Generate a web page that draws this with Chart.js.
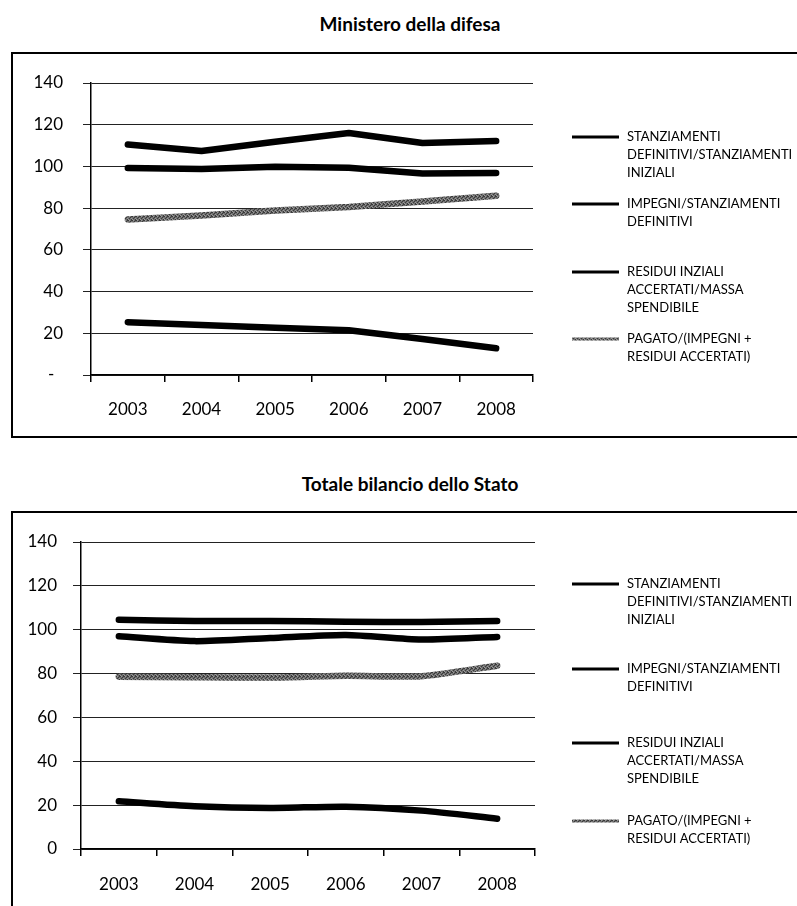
<!DOCTYPE html>
<html>
<head>
<meta charset="utf-8">
<script src="https://cdn.jsdelivr.net/npm/chart.js@4.4.1/dist/chart.umd.min.js"></script>
<style>
  html, body { margin: 0; padding: 0; background: #fff; width: 797px; height: 906px; overflow: hidden; }
  body { position: relative; font-family: Lato, "Open Sans", sans-serif; }
  .title { position: absolute; left: 0; width: 820px; text-align: center; font-weight: bold; font-size: 19px; line-height: 24px; color: #000; }
  .box { position: absolute; border: 2px solid #000; box-sizing: border-box; }
  canvas { position: absolute; left: 0; }
</style>
</head>
<body>
<div class="title" style="top:12px">Ministero della difesa</div>
<div class="box" style="left:11px; top:52px; width:820px; height:386px"></div>
<canvas id="difesa" width="797" height="453" style="top:0"></canvas>

<div class="title" style="top:472px">Totale bilancio dello Stato</div>
<div class="box" style="left:11px; top:511px; width:820px; height:500px"></div>
<canvas id="stato" width="797" height="446" style="top:460px"></canvas>

<script>
// Categories and legend texts
const years = ['2003', '2004', '2005', '2006', '2007', '2008'];
const seriesNames = [
  ['STANZIAMENTI', 'DEFINITIVI/STANZIAMENTI', 'INIZIALI'],
  ['IMPEGNI/STANZIAMENTI', 'DEFINITIVI'],
  ['RESIDUI INZIALI', 'ACCERTATI/MASSA', 'SPENDIBILE'],
  ['PAGATO/(IMPEGNI +', 'RESIDUI ACCERTATI)']
];

// Ministero della difesa (%)
const difesaStanziamenti = [110.5, 107.4, 111.8, 116.0, 111.2, 112.2];
const difesaImpegni      = [99.2, 98.8, 99.8, 99.4, 96.6, 96.8];
const difesaResidui      = [25.3, 24.0, 22.6, 21.5, 17.3, 12.8];
const difesaPagato       = [74.6, 76.5, 78.9, 80.5, 83.2, 85.9];

// Totale bilancio dello Stato (%)
const statoStanziamenti = [104.5, 104.0, 104.0, 103.6, 103.5, 104.0];
const statoImpegni      = [97.0, 94.8, 96.2, 97.6, 95.5, 96.7];
const statoResidui      = [21.8, 19.5, 18.7, 19.3, 17.5, 13.8];
const statoPagato       = [78.6, 78.3, 78.2, 79.0, 78.8, 83.6];

// Y axis tick labels (step 20 from 0 to 140)
const difesaYTicks = ['-  ', '20', '40', '60', '80', '100', '120', '140'];
const statoYTicks  = ['0', '20', '40', '60', '80', '100', '120', '140'];

// Mottled grey stroke for the "pagato" series
function greyPattern() {
  const c = document.createElement('canvas');
  c.width = 4; c.height = 4;
  const g = c.getContext('2d');
  g.fillStyle = '#6f6f6f';
  g.fillRect(0, 0, 4, 4);
  g.fillStyle = '#3a3a3a';
  [[0,0],[2,1],[1,2],[3,3],[3,0]].forEach(([x, y]) => g.fillRect(x, y, 1, 1));
  g.fillStyle = '#9a9a9a';
  [[1,0],[3,2],[0,3]].forEach(([x, y]) => g.fillRect(x, y, 1, 1));
  return g.createPattern(c, 'repeat');
}
const GREY = greyPattern();

// Legend drawn to the right of the plot, one multi-line entry per series
const sideLegend = {
  id: 'sideLegend',
  afterDraw(chart, args, opts) {
    const ctx = chart.ctx;
    ctx.save();
    ctx.font = opts.fontSize + 'px Lato, "Open Sans", sans-serif';
    ctx.textBaseline = 'middle';
    ctx.textAlign = 'left';
    chart.data.datasets.forEach((ds, i) => {
      const y = opts.rows[i];
      ctx.strokeStyle = ds.borderColor;
      ctx.lineWidth = opts.symbolWidth;
      ctx.beginPath();
      ctx.moveTo(opts.x0, y);
      ctx.lineTo(opts.x1, y);
      ctx.stroke();
      ctx.fillStyle = '#000';
      const lines = Array.isArray(ds.label) ? ds.label : [ds.label];
      lines.forEach((t, k) => ctx.fillText(t, opts.textX, y + k * opts.lineHeight));
    });
    ctx.restore();
  }
};

function buildChart(id, values, yTicks, g) {
  const tickFont = { family: 'Lato', size: 17 };
  const colors = ['#000', '#000', '#000', GREY];
  return new Chart(document.getElementById(id), {
    type: 'line',
    data: {
      labels: years,
      datasets: values.map((v, i) => ({
        label: seriesNames[i],
        data: v,
        borderColor: colors[i],
        backgroundColor: colors[i],
        fill: false
      }))
    },
    options: {
      responsive: false,
      animation: false,
      layout: { padding: { top: g.top, right: g.right, left: 0, bottom: 0 } },
      elements: {
        point: { radius: 0, hoverRadius: 0 },
        line: { borderWidth: 6.5, borderCapStyle: 'round', borderJoinStyle: 'round', tension: g.tension }
      },
      plugins: {
        legend: { display: false },
        tooltip: { enabled: false },
        sideLegend: { rows: g.rows, x0: 572, x1: 619, textX: 627, lineHeight: 18, fontSize: 13, symbolWidth: 3 }
      },
      scales: {
        x: {
          offset: true,
          grid: { offset: true, drawOnChartArea: false, drawTicks: true, tickLength: 7, color: '#000', lineWidth: 1.5 },
          border: { display: true, color: '#000', width: 1.5 },
          ticks: { font: tickFont, color: '#000', padding: g.xPad, maxRotation: 0, autoSkip: false },
          afterFit: s => { s.height = g.xH; }
        },
        y: {
          min: 0, max: 140,
          grid: { color: '#222', lineWidth: 1, tickLength: 8 },
          border: { display: true, color: '#000', width: 1.5 },
          ticks: { stepSize: 20, font: tickFont, color: '#000', padding: g.yPad, callback: v => yTicks[Math.round(v / 20)] },
          afterFit: s => { s.width = g.yW; }
        }
      }
    },
    plugins: [sideLegend]
  });
}

buildChart('difesa',
  [difesaStanziamenti, difesaImpegni, difesaResidui, difesaPagato],
  difesaYTicks,
  { top: 83, right: 264, yW: 91, xH: 78, xPad: 17, yPad: 20, tension: 0, rows: [137, 204, 272, 339] });

buildChart('stato',
  [statoStanziamenti, statoImpegni, statoResidui, statoPagato],
  statoYTicks,
  { top: 82, right: 262, yW: 81, xH: 57, xPad: 18, yPad: 16, tension: 0.25, rows: [124, 209, 283, 361] });
</script>
</body>
</html>
